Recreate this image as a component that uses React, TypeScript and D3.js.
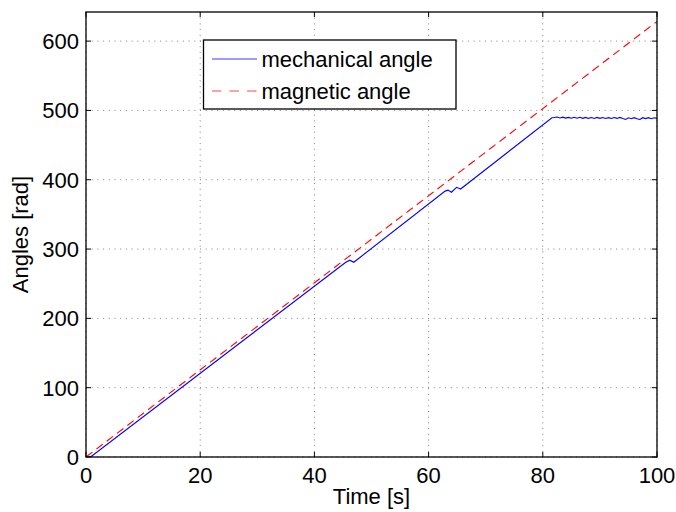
import React from "react";
import * as d3 from "d3";

const mechTime = [0, 0.8, 45.5, 46.2, 46.9, 62.9, 63.4, 64.0, 64.9, 65.6, 81.6,
  82.0, 82.5, 83.0, 83.5, 84.0, 84.5, 85.0, 85.5, 86.0, 86.5, 87.0, 87.5, 88.0, 88.5,
  89.0, 89.5, 90.0, 90.5, 91.0, 91.5, 92.0, 92.5, 93.0, 93.5, 94.0, 94.5, 95.0, 95.5,
  96.0, 96.5, 97.0, 97.5, 98.0, 98.5, 99.0, 99.5, 100.0];
const mechAngle = [0, 0, 281, 284, 281, 383.6, 385, 382, 389, 386.6, 489.5,
  489.8, 490.5, 489.2, 490.3, 488.9, 490.0, 488.7, 490.2, 488.8, 490.1, 488.6, 489.9, 488.5, 489.8,
  488.4, 489.9, 488.6, 489.7, 488.4, 489.6, 488.3, 489.8, 488.5, 489.9, 488.2, 486.9, 489.4, 488.1,
  489.6, 488.0, 487.0, 489.5, 488.2, 489.6, 488.0, 489.4, 488.5];
const magTime = [0, 100];
const magAngle = [0, 628.3];
const xTicks = [0, 20, 40, 60, 80, 100];
const yTicks = [0, 100, 200, 300, 400, 500, 600];
const legendLabels = ["mechanical angle", "magnetic angle"];

const W = 676, H = 512;
const L = 86, R = 657, T = 12, B = 457;
const FONT = "'Liberation Sans', Arial, Helvetica, sans-serif";

export default function App() {
  const x = d3.scaleLinear().domain([0, 100]).range([L, R]);
  const y = d3.scaleLinear().domain([0, 642]).range([B, T]);
  const line = d3.line<[number, number]>().x(d => x(d[0])).y(d => y(d[1]));
  const mech = line(mechTime.map((t, i) => [t, mechAngle[i]]) as [number, number][]) || "";
  const mag = line(magTime.map((t, i) => [t, magAngle[i]]) as [number, number][]) || "";
  const tl = 5;
  return (
    <svg width={W} height={H} style={{ position: "absolute", left: 0, top: 0, background: "#fff" }}
      fontFamily={FONT}>
      <rect x={0} y={0} width={W} height={H} fill="#fff" />
      <defs>
        <clipPath id="plot"><rect x={L} y={T} width={R - L} height={B - T} /></clipPath>
      </defs>
      {xTicks.map(t => (
        <line key={"gx" + t} x1={x(t)} x2={x(t)} y1={T} y2={B} stroke="#808080" strokeWidth={1}
          strokeDasharray="1,4.7" />
      ))}
      {yTicks.map(t => (
        <line key={"gy" + t} x1={L} x2={R} y1={y(t)} y2={y(t)} stroke="#808080" strokeWidth={1}
          strokeDasharray="1,4.7" />
      ))}
      <g clipPath="url(#plot)">
        <path d={mag} fill="none" stroke="#ff0000" strokeWidth={1.1} strokeDasharray="8,5" />
        <path d={mech} fill="none" stroke="#0000ff" strokeWidth={1.1} />
      </g>
      {xTicks.map(t => (
        <g key={"tx" + t}>
          <line x1={x(t)} x2={x(t)} y1={B} y2={B - tl} stroke="#000" />
          <line x1={x(t)} x2={x(t)} y1={T} y2={T + tl} stroke="#000" />
          <text x={x(t)} y={483} fontSize={22} textAnchor="middle" fill="#000">{t}</text>
        </g>
      ))}
      {yTicks.map(t => (
        <g key={"ty" + t}>
          <line x1={L} x2={L + tl} y1={y(t)} y2={y(t)} stroke="#000" />
          <line x1={R} x2={R - tl} y1={y(t)} y2={y(t)} stroke="#000" />
          <text x={79} y={y(t) + 8} fontSize={22} textAnchor="end" fill="#000">{t}</text>
        </g>
      ))}
      <rect x={L} y={T} width={R - L} height={B - T} fill="none" stroke="#000" strokeWidth={1.3} />
      <text x={(L + R) / 2} y={504} fontSize={22} textAnchor="middle" fill="#000">Time [s]</text>
      <text transform={`translate(28,${(T + B) / 2}) rotate(-90)`} fontSize={22} textAnchor="middle"
        fill="#000">Angles [rad]</text>
      <g>
        <rect x={203.5} y={40} width={252.5} height={69} fill="#fff" stroke="#000" strokeWidth={1.3} />
        <line x1={212} x2={257} y1={59} y2={59} stroke="#3a3aff" strokeWidth={1.2} />
        <text x={261.5} y={67} fontSize={22} fill="#000">{legendLabels[0]}</text>
        <line x1={212} x2={257} y1={91} y2={91} stroke="#ff4a4a" strokeWidth={1.2} strokeDasharray="9.5,8" />
        <text x={261.5} y={99} fontSize={22} fill="#000">{legendLabels[1]}</text>
      </g>
    </svg>
  );
}
